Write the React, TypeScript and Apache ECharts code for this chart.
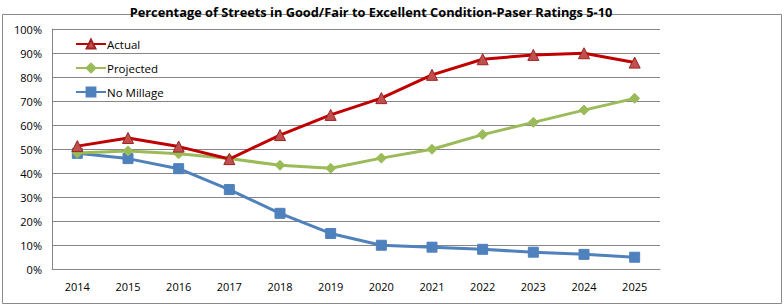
import React, { useEffect, useRef } from "react";
import * as echarts from "echarts";

const years = ["2014", "2015", "2016", "2017", "2018", "2019", "2020", "2021", "2022", "2023", "2024", "2025"];
const actual = [51.2, 54.6, 51, 45.8, 55.8, 64.2, 71.2, 80.9, 87.4, 89.2, 89.9, 86];
const projected = [48.3, 49.2, 48, 46, 43.2, 42, 46.2, 49.9, 56, 61.1, 66.2, 71.1];
const noMillage = [48.2, 46, 41.8, 33.1, 23.2, 14.8, 9.9, 9.1, 8.2, 7, 6.1, 4.9];
const titleText = "Percentage of Streets in Good/Fair to Excellent Condition-Paser Ratings 5-10";

export default function App() {
  const ref = useRef<HTMLDivElement>(null);
  useEffect(() => {
    document.body.style.margin = "0";
    const chart = echarts.init(ref.current!, null, { renderer: "svg" });
    const font = "Open Sans";
    chart.setOption({
      animation: false,
      backgroundColor: "#fff",
      title: {
        text: titleText,
        left: 366,
        textAlign: "center",
        top: 0,
        textStyle: { fontFamily: font, fontSize: 12.8, fontWeight: "bold", color: "#000" },
      },
      graphic: [
        {
          type: "rect",
          shape: { x: 2.5, y: 14.5, width: 779, height: 289 },
          style: { fill: "none", stroke: "#8a8a8a", lineWidth: 1 },
          z: -1,
        },
      ],
      legend: {
        orient: "vertical",
        left: 70,
        top: 33,
        itemWidth: 30,
        itemHeight: 11,
        itemGap: 12,
        textStyle: { fontFamily: font, fontSize: 11.5, color: "#000", padding: [0, 0, 0, -4] },
        data: ["Actual", "Projected", "No Millage"],
      },
      grid: { left: 52, right: 124, top: 29, bottom: 36 },
      xAxis: {
        type: "category",
        data: years,
        boundaryGap: true,
        axisLine: { lineStyle: { color: "#868686" } },
        axisTick: { show: false },
        axisLabel: { fontFamily: font, fontSize: 11, color: "#000", margin: 12 },
      },
      yAxis: {
        type: "value",
        min: 0,
        max: 100,
        interval: 10,
        axisLine: { show: true, lineStyle: { color: "#868686" } },
        axisTick: { show: false },
        splitLine: { lineStyle: { color: "#868686", width: 1 } },
        axisLabel: { fontFamily: font, fontSize: 11, color: "#000", formatter: "{value}%", margin: 10 },
      },
      series: [
        {
          name: "Actual",
          type: "line",
          data: actual,
          symbol: "triangle",
          symbolSize: 11,
          lineStyle: { color: "#C00000", width: 3 },
          itemStyle: { color: "#C0504D", borderColor: "#A02020", borderWidth: 1 },
          z: 3,
        },
        {
          name: "Projected",
          type: "line",
          data: projected,
          symbol: "diamond",
          symbolSize: 10,
          lineStyle: { color: "#9BBB59", width: 3 },
          itemStyle: { color: "#9BBB59", borderColor: "#9BBB59", borderWidth: 1 },
          z: 2,
        },
        {
          name: "No Millage",
          type: "line",
          data: noMillage,
          symbol: "rect",
          symbolSize: 10,
          lineStyle: { color: "#4F81BD", width: 3 },
          itemStyle: { color: "#4F81BD", borderColor: "#4F81BD", borderWidth: 1 },
          z: 1,
        },
      ],
    });
    return () => chart.dispose();
  }, []);
  return <div ref={ref} style={{ width: 784, height: 305 }} />;
}
